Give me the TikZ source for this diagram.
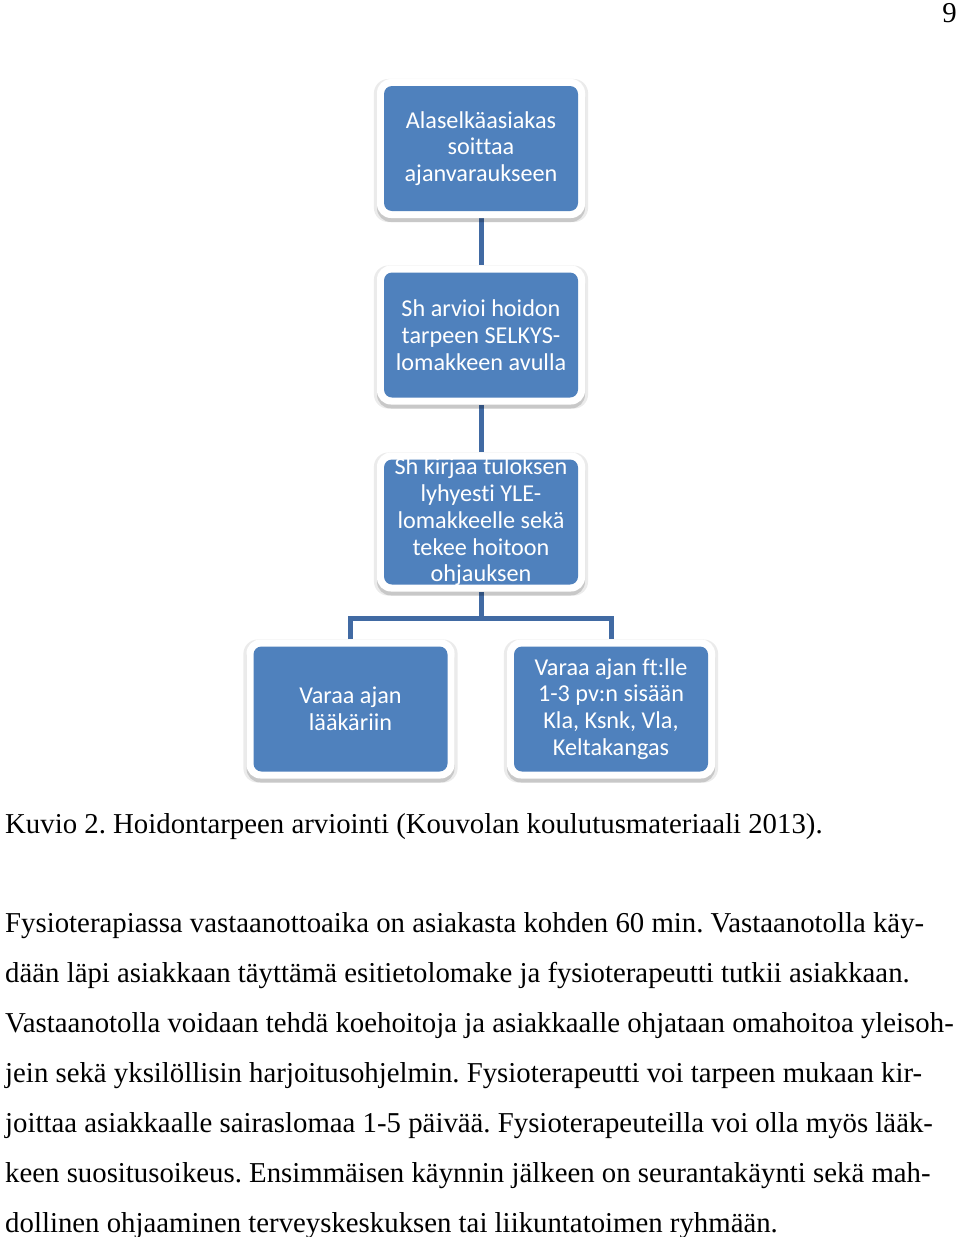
\documentclass[tikz,border=0pt]{standalone}
\usepackage{fontspec}
\setmainfont{Liberation Serif}
\newfontfamily\boxfont{Carlito}[Ligatures=NoCommon]
\usetikzlibrary{backgrounds,shadows}
\definecolor{boxblue}{RGB}{79,129,189}
\definecolor{linkblue}{RGB}{65,106,163}
\tikzset{
  flowbox/.style={rectangle, rounded corners=14pt, fill=white, draw=none,
    inner sep=0pt, minimum width=208pt, minimum height=139pt,
    text=white, align=center, font=\boxfont\fontsize{24.2}{26.8}\selectfont,
    general shadow={shadow xshift=0pt, shadow yshift=-2pt, shadow scale=1.03, opacity=0.08, fill=black},
    general shadow={shadow xshift=0pt, shadow yshift=-4pt, opacity=0.15, fill=black},
    path picture={\fill[boxblue, rounded corners=8pt]
      ([shift={(7pt,-7pt)}]path picture bounding box.north west) rectangle
      ([shift={(-7pt,7pt)}]path picture bounding box.south east);}},
  link/.style={draw=linkblue, line width=5pt},
  bodyline/.style={anchor=base west, inner sep=0pt, font=\fontsize{28.8}{33}\selectfont},
}
\frenchspacing
\begin{document}
\begin{tikzpicture}[x=1pt, y=-1pt]
\useasboundingbox (0,0) rectangle (960,1237);
\node[anchor=base east, inner sep=0pt, font=\fontsize{28.8}{33}\selectfont] (pg) at (957,22) {9};

\node[flowbox] (b1) at (481,148.5) {Alaselkäasiakas\\soittaa\\ajanvaraukseen};
\node[flowbox] (b2) at (481,335) {Sh arvioi hoidon\\tarpeen SELKYS-\\lomakkeen avulla};
\node[flowbox] (b3) at (481,522) {Sh kirjaa tuloksen\\lyhyesti YLE-\\lomakkeelle sekä\\tekee hoitoon\\ohjauksen};
\node[flowbox] (b4) at (350.5,709) {Varaa ajan\\lääkäriin};
\node[flowbox] (b5) at (611,709) {Varaa ajan ft:lle\\1-3 pv:n sisään\\Kla, Ksnk, Vla,\\Keltakangas};
\coordinate (split) at (481,618);

\begin{scope}[on background layer]
  \draw[link] (b1) -- (b2);
  \draw[link] (b2) -- (b3);
  \draw[link] (b3) -- (split);
  \draw[link, line join=miter] (b4) |- (split) -| (b5);
\end{scope}

\node[bodyline] (cap) at (5,833) {Kuvio 2. Hoidontarpeen arviointi (Kouvolan koulutusmateriaali 2013).};
\node[bodyline] (l1) at (5,932) {Fysioterapiassa vastaanottoaika on asiakasta kohden 60 min. Vastaanotolla käy-};
\node[bodyline] (l2) at (5,982) {dään läpi asiakkaan täyttämä esitietolomake ja fysioterapeutti tutkii asiakkaan.};
\node[bodyline] (l3) at (5,1032) {Vastaanotolla voidaan tehdä koehoitoja ja asiakkaalle ohjataan omahoitoa yleisoh-};
\node[bodyline] (l4) at (5,1082) {jein sekä yksilöllisin harjoitusohjelmin. Fysioterapeutti voi tarpeen mukaan kir-};
\node[bodyline] (l5) at (5,1132) {joittaa asiakkaalle sairaslomaa 1-5 päivää. Fysioterapeuteilla voi olla myös lääk-};
\node[bodyline] (l6) at (5,1182) {keen suositusoikeus. Ensimmäisen käynnin jälkeen on seurantakäynti sekä mah-};
\node[bodyline] (l7) at (5,1232) {dollinen ohjaaminen terveyskeskuksen tai liikuntatoimen ryhmään.};
\end{tikzpicture}
\end{document}
